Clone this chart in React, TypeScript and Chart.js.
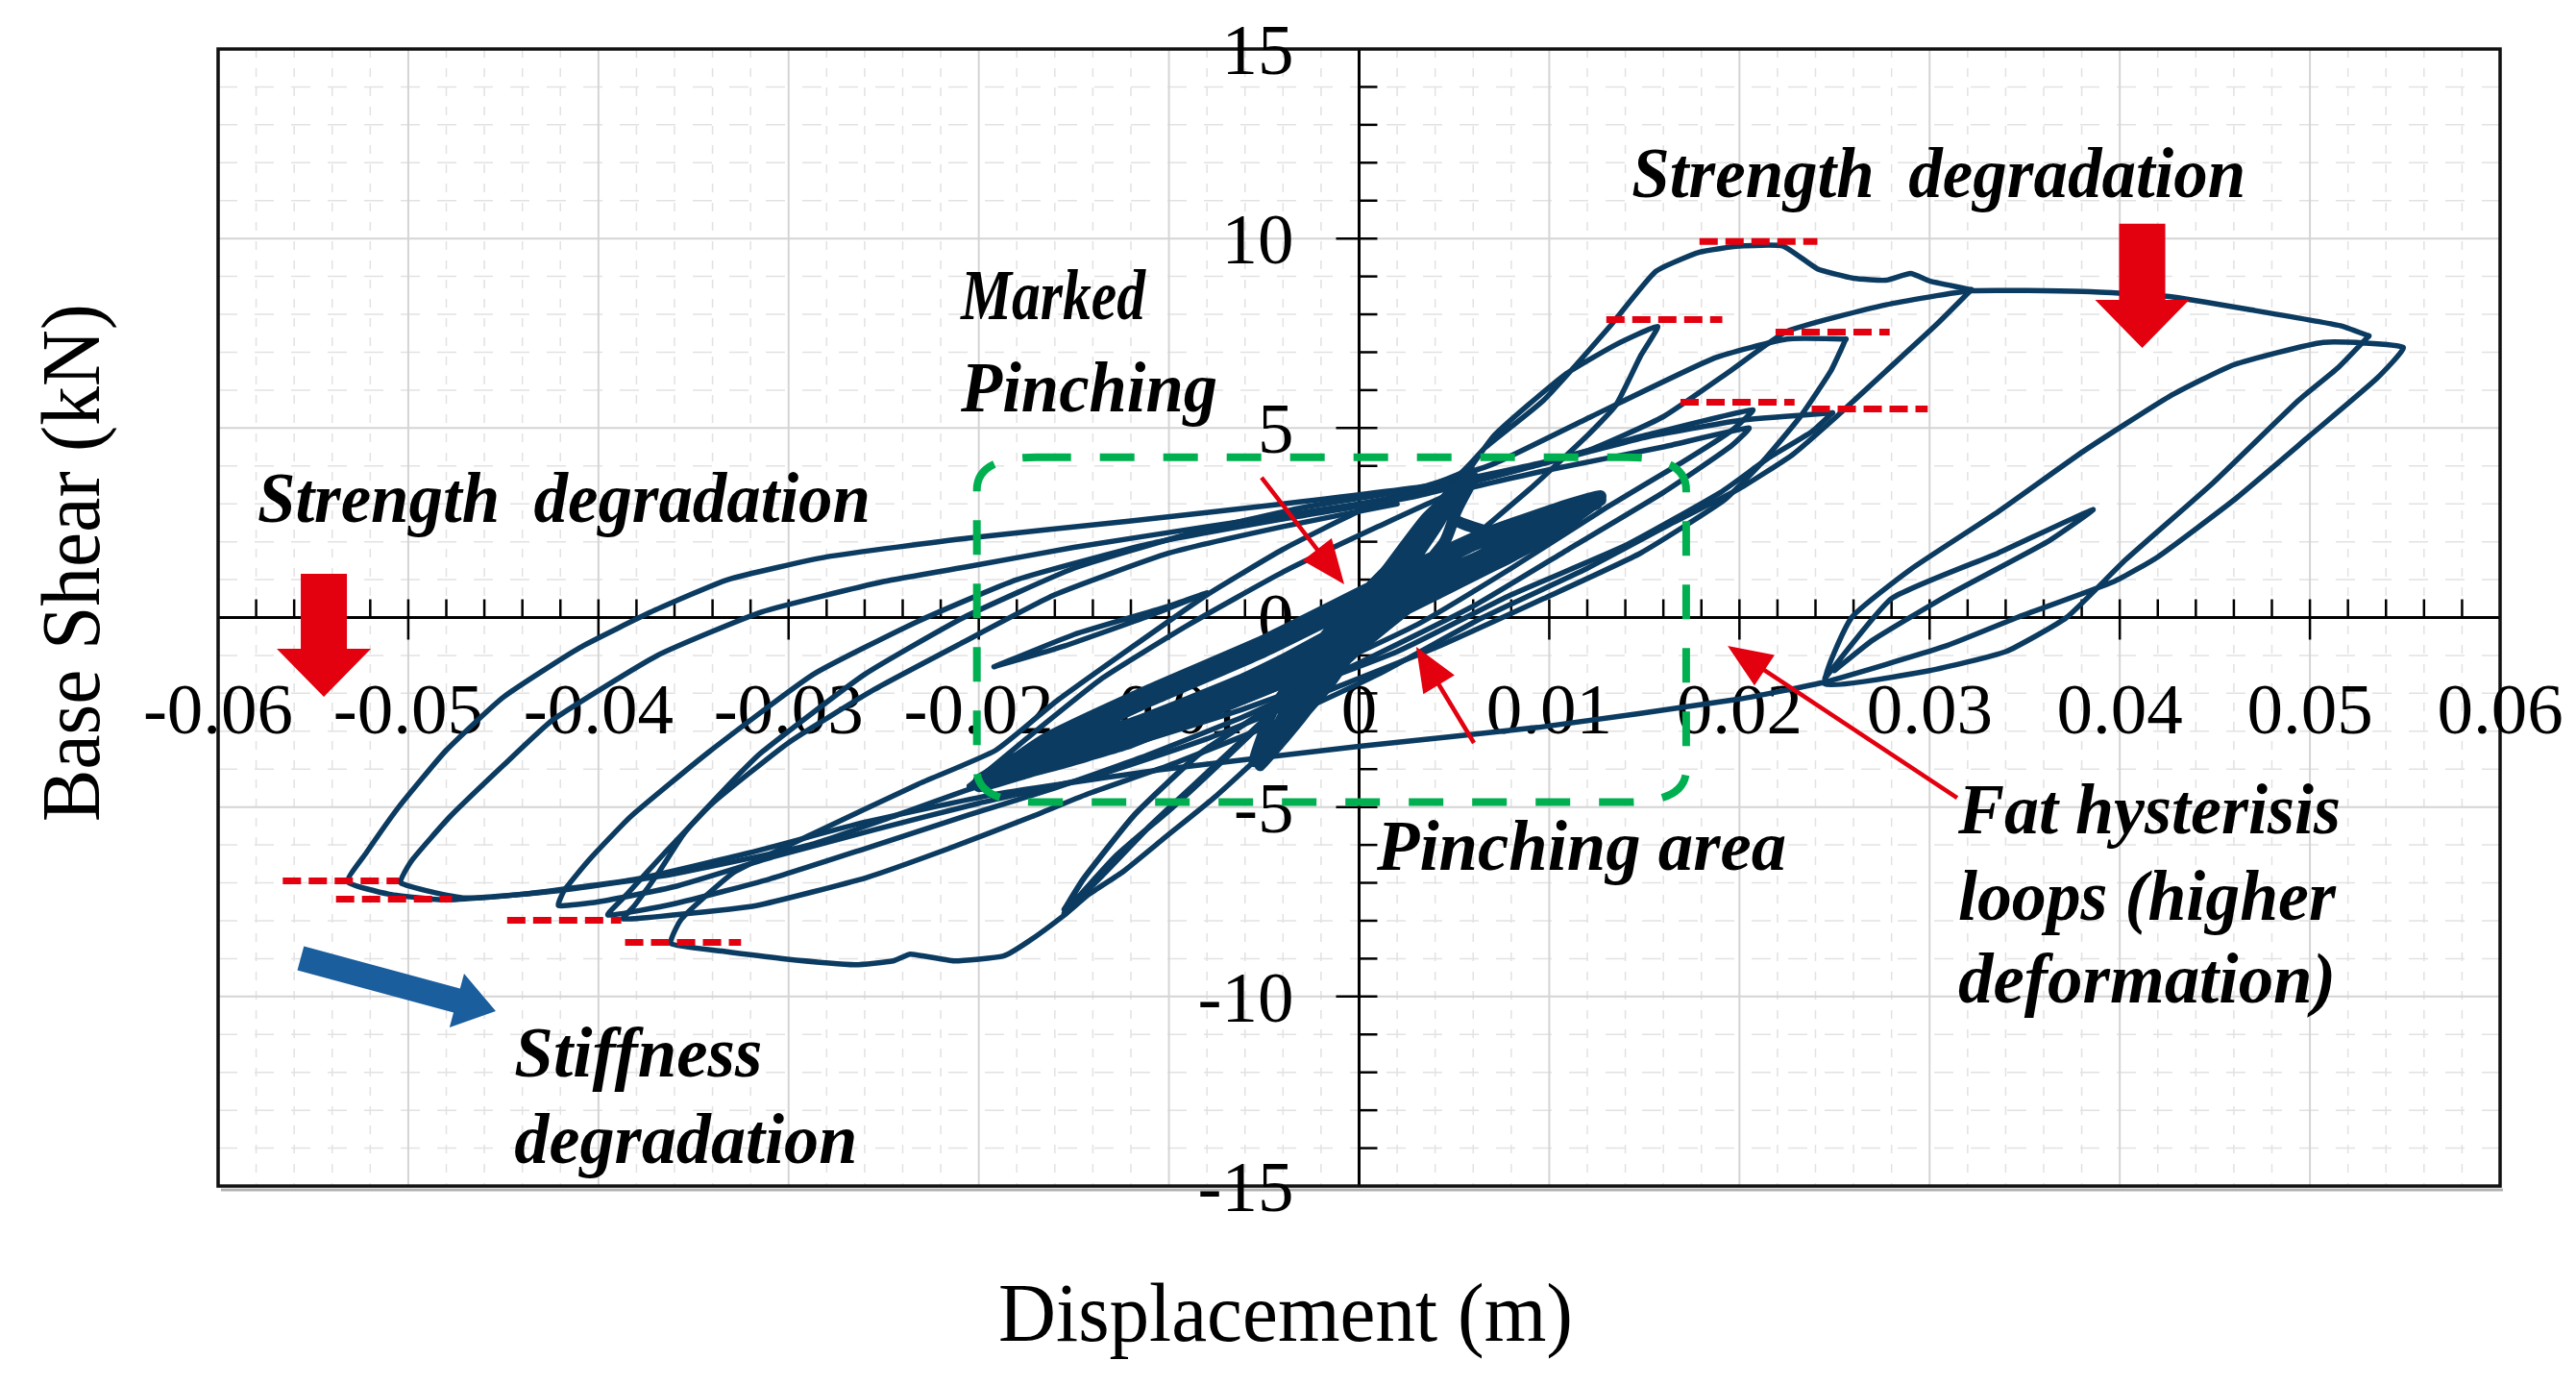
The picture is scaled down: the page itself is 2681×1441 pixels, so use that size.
import React, { useEffect, useRef } from "react";
import { Chart, registerables } from "chart.js";
Chart.register(...registerables);

type P = [number, number];

// ---------- axes ----------
const X_MIN = -0.06, X_MAX = 0.06, Y_MIN = -15, Y_MAX = 15;
const xTickValues = [-0.06, -0.05, -0.04, -0.03, -0.02, -0.01, 0, 0.01, 0.02, 0.03, 0.04, 0.05, 0.06];
const xTickLabels = ["-0.06", "-0.05", "-0.04", "-0.03", "-0.02", "-0.01", "0", "0.01", "0.02", "0.03", "0.04", "0.05", "0.06"];
const yTickValues = [-15, -10, -5, 0, 5, 10, 15];
const yTickLabels = ["-15", "-10", "-5", "0", "5", "10", "15"];
const xTitle = "Displacement (m)";
const yTitle = "Base Shear (kN)";

// ---------- hysteresis data (displacement m, base shear kN) ----------
const smallCycles: P[] = [
  [0.0, 0.0], [0.003, 1.5], [0.0015, 0.5], [-0.001, -0.9], [-0.003, -2.0], [-0.0015, -0.8], [0.001, 0.6],
  [0.0045, 2.9], [0.0058, 3.9], [0.0048, 3.0], [0.002, 0.9], [-0.0015, -1.7], [-0.0047, -3.5], [-0.004, -2.6],
  [-0.001, -0.4], [0.003, 2.2], [0.005, 3.4], [0.0042, 2.5], [0.0005, -0.2], [-0.003, -2.6], [-0.0052, -3.9],
  [-0.0042, -2.9], [-0.0005, -0.2], [0.004, 1.4], [0.008, 2.4], [0.0127, 3.2], [0.0105, 2.3], [0.006, 1.2],
  [0.002, 0.1], [-0.004, -1.5], [-0.01, -2.9], [-0.016, -3.8], [-0.02, -4.45], [-0.017, -3.5], [-0.011, -2.2],
  [-0.005, -0.9], [0.001, 0.6], [0.006, 1.9], [0.0115, 2.9], [0.0125, 3.05], [0.0095, 2.0], [0.004, 0.6],
  [-0.002, -0.9], [-0.008, -2.4], [-0.014, -3.6], [-0.0185, -4.2], [-0.015, -3.1], [-0.009, -1.7], [-0.003, -0.3],
  [0.003, 1.2], [0.008, 2.4], [0.012, 3.0], [0.009, 1.9], [0.004, 0.7], [-0.002, -0.7], [-0.008, -2.1],
  [-0.013, -3.2], [-0.0175, -3.9], [-0.014, -2.9], [-0.008, -1.5], [-0.002, 0.0], [0.004, 1.5], [0.0095, 2.6],
  [0.0127, 3.15], [0.01, 2.5], [0.005, 1.3], [0.0, -0.1], [-0.006, -1.6], [-0.012, -2.8], [-0.018, -3.7],
  [-0.02, -4.3], [-0.016, -3.5], [-0.01, -2.5], [-0.004, -1.2], [0.002, 0.4], [0.007, 1.8], [0.011, 2.7],
  [0.0127, 3.1], [0.0095, 2.3], [0.005, 1.0], [0.0, -0.5], [-0.006, -2.0], [-0.012, -3.3], [-0.0175, -4.1],
  [-0.02, -4.45], [-0.0165, -3.2], [-0.011, -1.9], [-0.005, -0.6], [0.001, 0.9], [0.006, 2.1], [0.0105, 2.9],
  [0.0127, 3.2], [0.008, 1.6], [0.003, 0.4], [0.0, -0.8], [-0.003, -2.2], [-0.0055, -3.8], [-0.0045, -2.4],
  [-0.001, 0.0], [0.003, 2.0], [0.0055, 3.6], [0.0045, 2.0], [0.001, 0.0], [-0.002, -1.5], [-0.0035, -2.8],
  [-0.0025, -1.4], [0.0005, 0.6], [0.0035, 2.6], [0.006, 3.7], [0.005, 2.6], [0.0085, 2.1], [0.0125, 3.1],
  [0.009, 2.2], [0.004, 1.1], [-0.001, -0.3], [-0.007, -1.9], [-0.013, -3.0], [-0.0185, -3.9], [-0.0195, -4.3],
  [-0.015, -3.6], [-0.009, -2.7], [-0.004, -1.7], [0.0, -0.6], [0.004, 0.9], [0.009, 2.3], [0.0125, 3.0],
];

const cycleA: P[] = [
  [0.0, 0.6], [0.0045, 3.0], [0.0071, 4.8], [0.0108, 6.4], [0.0135, 7.2], [0.0157, 7.68], [0.0148, 6.9],
  [0.0135, 5.6], [0.012, 4.8], [0.009, 3.4], [0.0055, 1.9], [0.002, 0.3], [-0.0015, -1.4], [-0.0045, -3.3],
  [-0.0075, -4.7], [-0.0102, -5.8], [-0.0124, -6.7], [-0.0142, -7.3], [-0.0155, -7.85], [-0.0174, -8.55],
  [-0.0187, -8.93], [-0.0213, -9.06], [-0.0236, -8.88], [-0.0245, -9.06], [-0.0265, -9.16], [-0.0303, -9.0],
  [-0.0335, -8.8], [-0.0362, -8.6], [-0.0357, -8.0], [-0.0347, -7.5], [-0.0328, -6.7], [-0.0287, -5.7],
  [-0.0232, -4.4], [-0.0191, -3.5], [-0.0159, -2.2], [-0.012, -0.8], [-0.008, 0.6], [-0.004, 1.8], [0.0, 2.8],
  [0.0053, 3.8], [0.0066, 4.47], [0.0097, 5.73], [0.0132, 7.69], [0.0156, 9.13], [0.0179, 9.64], [0.02, 9.8],
  [0.0223, 9.8], [0.0241, 9.2], [0.026, 8.95], [0.0277, 8.9], [0.029, 9.08], [0.03, 8.88], [0.0322, 8.65],
];

const cycleB: P[] = [
  [0.0322, 8.65], [0.0303, 7.7], [0.0277, 6.5], [0.0251, 5.3], [0.0228, 4.3], [0.02, 3.4], [0.0165, 2.5],
  [0.012, 1.3], [0.0065, 0.0], [0.001, -1.5], [-0.005, -2.9], [-0.01, -3.9], [-0.0143, -4.66], [-0.0172, -5.25],
  [-0.0216, -6.1], [-0.0259, -6.86], [-0.0317, -7.6], [-0.0361, -7.85], [-0.0387, -7.95], [-0.0381, -7.6],
  [-0.0368, -6.7], [-0.0355, -5.7], [-0.0335, -4.6], [-0.0314, -3.55], [-0.026, -1.5], [-0.0208, 0.0],
  [-0.015, 1.3], [-0.009, 2.2], [-0.003, 2.9], [0.003, 3.4], [0.0071, 4.06], [0.0122, 5.3], [0.0187, 6.85],
  [0.0225, 7.35], [0.0256, 7.35],
];

const cycleC: P[] = [
  [0.0256, 7.35], [0.0248, 6.5], [0.0232, 5.3], [0.0212, 4.1], [0.0192, 3.1], [0.0148, 1.7], [0.0097, 0.5],
  [0.004, -0.8], [-0.002, -2.0], [-0.008, -3.2], [-0.014, -4.2], [-0.02, -4.9], [-0.0255, -5.6], [-0.0307, -6.3],
  [-0.036, -7.1], [-0.04, -7.5], [-0.0421, -7.6], [-0.0418, -7.2], [-0.0405, -6.4], [-0.0383, -5.25],
  [-0.0342, -3.55], [-0.0287, -1.5], [-0.0232, -0.1], [-0.018, 1.0], [-0.011, 1.95], [-0.004, 2.6], [0.003, 3.2],
  [0.0097, 4.06], [0.015, 4.75], [0.02, 5.2], [0.0249, 5.4],
];

const cycleD: P[] = [
  [0.0249, 5.4], [0.0238, 4.9], [0.0215, 4.2], [0.019, 3.3], [0.014, 1.9], [0.008, 0.6], [0.002, -0.9],
  [-0.006, -2.4], [-0.013, -3.5], [-0.02, -4.45], [-0.0245, -5.25], [-0.0289, -6.0], [-0.0361, -6.77],
  [-0.042, -7.2], [-0.047, -7.4], [-0.0504, -7.0], [-0.0498, -6.4], [-0.0478, -5.25], [-0.045, -3.9],
  [-0.0424, -2.7], [-0.0369, -1.0], [-0.0314, 0.15], [-0.025, 0.95], [-0.0205, 1.35], [-0.015, 1.85],
  [-0.008, 2.4], [0.0, 3.0], [0.006, 3.6], [0.012, 4.4], [0.016, 5.3], [0.0195, 6.5], [0.0225, 7.55],
  [0.0277, 8.25], [0.0322, 8.62], [0.0381, 8.6], [0.0426, 8.47], [0.0471, 8.1], [0.0516, 7.7], [0.0531, 7.43],
];

const cycleE: P[] = [
  [0.0531, 7.43], [0.0515, 6.6], [0.0494, 5.73], [0.0449, 3.55], [0.0403, 1.52], [0.0372, 0.0], [0.034, -0.9],
  [0.03, -1.4], [0.0245, -1.75], [0.0259, 0.0], [0.029, 1.27], [0.0336, 2.79], [0.0381, 4.39], [0.0426, 5.83],
  [0.046, 6.67], [0.0507, 7.26], [0.0549, 7.13], [0.0535, 6.3], [0.05, 4.8], [0.046, 3.1], [0.042, 1.6],
  [0.0397, 0.95], [0.0346, 0.0], [0.0308, -0.76], [0.0245, -1.7], [0.02, -2.15], [0.0094, -2.9], [0.0, -3.4],
  [-0.0102, -4.0], [-0.0192, -4.67], [-0.026, -5.4], [-0.032, -6.2], [-0.038, -6.9], [-0.044, -7.3],
  [-0.048, -7.45], [-0.051, -7.3], [-0.0532, -6.97], [-0.0522, -6.2], [-0.0505, -5.0], [-0.048, -3.5],
  [-0.045, -2.1], [-0.041, -0.8], [-0.037, 0.2], [-0.0332, 1.0], [-0.028, 1.6], [-0.0205, 2.1], [-0.012, 2.55],
  [-0.004, 3.0], [0.004, 3.5], [0.0097, 4.1], [0.015, 4.8], [0.0207, 5.48], [0.0195, 4.9], [0.017, 4.1],
  [0.013, 2.9], [0.008, 1.3], [0.003, -0.2], [-0.003, -1.6], [-0.01, -3.0], [-0.016, -3.9], [-0.0205, -4.45],
];

// later partial cycles (inner branches)
const cycleF: P[] = [
  [-0.0205, -4.45], [-0.0175, -3.2], [-0.0135, -1.6], [-0.009, -0.2], [-0.004, 1.2], [0.001, 2.4], [0.005, 3.3],
  [0.01, 3.9], [0.016, 4.5], [0.0205, 5.0], [0.0195, 4.5], [0.016, 3.3], [0.011, 1.8], [0.006, 0.3],
  [0.0, -1.2], [-0.006, -2.6], [-0.0115, -3.7], [-0.016, -4.5], [-0.0205, -5.2], [-0.026, -6.1],
  [-0.031, -6.9], [-0.036, -7.55], [-0.0395, -7.85], [-0.0385, -7.3], [-0.0365, -6.2], [-0.034, -4.9],
  [-0.03, -3.3], [-0.0255, -1.9], [-0.021, -0.7], [-0.016, 0.6], [-0.01, 1.7], [-0.004, 2.4], [0.002, 3.0],
];

const fanLines: P[] = [
  [0.001, 0.4], [-0.002, -1.1], [-0.005, -2.7], [-0.008, -4.1], [-0.011, -5.5], [-0.0135, -6.8], [-0.0155, -7.8],
  [-0.0128, -6.3], [-0.0098, -5.0], [-0.0068, -3.6], [-0.0035, -2.0], [-0.001, -0.6], [-0.0045, -2.3],
  [-0.0084, -3.6], [-0.0118, -5.2], [-0.0145, -6.9], [-0.0155, -7.7],
];

const spikeLoop: P[] = [
  [0.0245, -1.6], [0.028, 0.5], [0.0336, 1.7], [0.0386, 2.85], [0.0362, 2.0], [0.031, 0.6], [0.027, -0.6], [0.025, -1.4],
];

const innerSliver: P[] = [
  [-0.0192, -1.3], [-0.015, -0.45], [-0.01, 0.3], [-0.008, 0.65], [-0.011, 0.05], [-0.0155, -0.75], [-0.0192, -1.3],
];

// strength levels (red dashed): [xStart, xEnd, y]
const strengthLevelsPos: [number, number, number][] = [
  [0.0179, 0.0241, 9.92], [0.013, 0.0191, 7.86], [0.0219, 0.0279, 7.53], [0.0169, 0.0229, 5.68], [0.0238, 0.0299, 5.5],
];
const strengthLevelsNeg: [number, number, number][] = [
  [-0.0566, -0.0505, -6.95], [-0.0538, -0.0477, -7.43], [-0.0448, -0.0388, -7.99], [-0.0386, -0.0325, -8.57],
];

// pinching area box: [xMin, xMax, yMin, yMax]
const pinchBox = [-0.0201, 0.0172, -4.87, 4.23];

// annotation texts: [text, x, yBaseline, widthPx]
const notes: [string, number, number, number][] = [
  ["Strength  degradation", 0.01434, 11.1, 639],
  ["Marked", -0.02094, 7.88, 192],
  ["Pinching", -0.02094, 5.45, 267],
  ["Strength  degradation", -0.05793, 2.53, 638],
  ["Pinching area", 0.000935, -6.66, 426],
  ["Fat hysterisis", 0.0315, -5.69, 398],
  ["loops (higher", 0.0315, -7.98, 393],
  ["deformation)", 0.0315, -10.16, 393],
  ["Stiffness", -0.04442, -12.11, 258],
  ["degradation", -0.04442, -14.39, 357],
];

// block arrows: [xTail, yTail, xTip, yTip]
const redBlockArrows: [number, number, number, number][] = [
  [0.04118, 10.39, 0.04118, 7.115],
  [-0.05444, 1.154, -0.05444, -2.09],
];
const blueBlockArrow: [number, number, number, number] = [-0.05566, -8.99, -0.0454, -10.385];
// thin callout arrows: [xFrom, yFrom, xTip, yTip]
const calloutArrows: [number, number, number, number][] = [
  [-0.00513, 3.69, -0.00078, 0.875],
  [0.00604, -3.31, 0.003, -0.773],
  [0.03145, -4.755, 0.01938, -0.748],
];

// ---------- styling ----------
const LINE = "#0b3b60";
const RED = "#e3000f";
const SERIF = '"Liberation Serif", "Times New Roman", serif';

const toPts = (a: P[]) => a.map(([x, y]) => ({ x, y }));

function fitText(ctx: CanvasRenderingContext2D, text: string, x: number, y: number, width: number, font: string, sy = 1) {
  ctx.font = font;
  const w = ctx.measureText(text).width;
  ctx.save();
  ctx.translate(x, y);
  ctx.scale(width / w, sy);
  ctx.textAlign = "left";
  ctx.textBaseline = "alphabetic";
  ctx.fillText(text, 0, 0);
  ctx.restore();
}

function blockArrow(ctx: CanvasRenderingContext2D, x1: number, y1: number, x2: number, y2: number, sh: number, hh: number, hl: number, color: string) {
  const dx = x2 - x1, dy = y2 - y1;
  const L = Math.hypot(dx, dy);
  const ux = dx / L, uy = dy / L;
  const nx = -uy, ny = ux;
  const bx = x2 - ux * hl, by = y2 - uy * hl;
  ctx.save();
  ctx.fillStyle = color;
  ctx.beginPath();
  ctx.moveTo(x1 + nx * sh, y1 + ny * sh);
  ctx.lineTo(bx + nx * sh, by + ny * sh);
  ctx.lineTo(bx + nx * hh, by + ny * hh);
  ctx.lineTo(x2, y2);
  ctx.lineTo(bx - nx * hh, by - ny * hh);
  ctx.lineTo(bx - nx * sh, by - ny * sh);
  ctx.lineTo(x1 - nx * sh, y1 - ny * sh);
  ctx.closePath();
  ctx.fill();
  ctx.restore();
}

function lineArrow(ctx: CanvasRenderingContext2D, x1: number, y1: number, x2: number, y2: number, color: string) {
  const dx = x2 - x1, dy = y2 - y1;
  const L = Math.hypot(dx, dy);
  const ux = dx / L, uy = dy / L;
  const nx = -uy, ny = ux;
  const hl = 46, hh = 19;
  const bx = x2 - ux * hl, by = y2 - uy * hl;
  ctx.save();
  ctx.strokeStyle = color;
  ctx.fillStyle = color;
  ctx.lineWidth = 4.5;
  ctx.beginPath();
  ctx.moveTo(x1, y1);
  ctx.lineTo(bx + ux * 4, by + uy * 4);
  ctx.stroke();
  ctx.beginPath();
  ctx.moveTo(x2, y2);
  ctx.lineTo(bx + nx * hh, by + ny * hh);
  ctx.lineTo(bx - nx * hh, by - ny * hh);
  ctx.closePath();
  ctx.fill();
  ctx.restore();
}

const framePlugin = {
  id: "frame",
  beforeDraw(chart: any) {
    const ctx: CanvasRenderingContext2D = chart.ctx;
    ctx.save();
    ctx.fillStyle = "#ffffff";
    ctx.fillRect(0, 0, chart.width, chart.height);
    ctx.restore();
  },
  beforeDatasetsDraw(chart: any) {
    const ctx: CanvasRenderingContext2D = chart.ctx;
    const { left, right, top, bottom } = chart.chartArea;
    const xs = chart.scales.x, ys = chart.scales.y;
    const X = (v: number) => xs.getPixelForValue(v);
    const Y = (v: number) => ys.getPixelForValue(v);
    ctx.save();
    // minor grid
    ctx.strokeStyle = "#e2e2e2";
    ctx.lineWidth = 1.5;
    ctx.setLineDash([9, 11]);
    for (let i = -29; i <= 29; i++) {
      if (i % 5 === 0) continue;
      const x = X(i * 0.002);
      ctx.beginPath(); ctx.moveTo(x, top); ctx.lineTo(x, bottom); ctx.stroke();
    }
    ctx.setLineDash([20, 18]);
    for (let j = -14; j <= 14; j++) {
      if (j % 5 === 0) continue;
      const y = Y(j);
      ctx.beginPath(); ctx.moveTo(left, y); ctx.lineTo(right, y); ctx.stroke();
    }
    ctx.setLineDash([]);
    // major grid
    ctx.strokeStyle = "#d4d4d4";
    ctx.lineWidth = 2;
    for (const v of xTickValues) {
      const x = X(v);
      ctx.beginPath(); ctx.moveTo(x, top); ctx.lineTo(x, bottom); ctx.stroke();
    }
    for (const v of yTickValues) {
      const y = Y(v);
      ctx.beginPath(); ctx.moveTo(left, y); ctx.lineTo(right, y); ctx.stroke();
    }
    // axes through zero
    const x0 = X(0), y0 = Y(0);
    ctx.strokeStyle = "#000";
    ctx.lineWidth = 3;
    ctx.beginPath(); ctx.moveTo(left, y0); ctx.lineTo(right, y0); ctx.stroke();
    ctx.beginPath(); ctx.moveTo(x0, top); ctx.lineTo(x0, bottom); ctx.stroke();
    ctx.lineWidth = 2.5;
    for (let i = -29; i <= 29; i++) {
      const x = X(i * 0.002);
      ctx.beginPath();
      if (i % 5 === 0) { ctx.moveTo(x, y0 - 19); ctx.lineTo(x, y0 + 23); }
      else { ctx.moveTo(x, y0 - 19); ctx.lineTo(x, y0); }
      ctx.stroke();
    }
    for (let j = -14; j <= 14; j++) {
      const y = Y(j);
      ctx.beginPath();
      if (j % 5 === 0) { ctx.moveTo(x0 - 24, y); ctx.lineTo(x0 + 19, y); }
      else { ctx.moveTo(x0, y); ctx.lineTo(x0 + 19, y); }
      ctx.stroke();
    }
    // frame with slight shadow
    ctx.strokeStyle = "rgba(0,0,0,0.3)";
    ctx.lineWidth = 3;
    ctx.beginPath(); ctx.moveTo(left + 3, bottom + 4); ctx.lineTo(right + 3, bottom + 4); ctx.stroke();
    ctx.strokeStyle = "#111";
    ctx.lineWidth = 3.5;
    ctx.strokeRect(left, top, right - left, bottom - top);
    // tick labels
    ctx.fillStyle = "#000";
    ctx.font = `75px ${SERIF}`;
    ctx.textBaseline = "alphabetic";
    ctx.textAlign = "center";
    xTickValues.forEach((v, i) => ctx.fillText(xTickLabels[i], X(v), y0 + 120));
    ctx.textAlign = "right";
    yTickValues.forEach((v, i) => ctx.fillText(yTickLabels[i], x0 - 68, Y(v) + 26));
    // titles
    fitText(ctx, xTitle, 1039, 1395, 598, `82px ${SERIF}`, 1.05);
    ctx.save();
    ctx.translate(103, 855);
    ctx.rotate(-Math.PI / 2);
    fitText(ctx, yTitle, 0, 0, 539, `82px ${SERIF}`, 1.05);
    ctx.restore();
    ctx.restore();
  },
  afterDatasetsDraw(chart: any) {
    const ctx: CanvasRenderingContext2D = chart.ctx;
    const xs = chart.scales.x, ys = chart.scales.y;
    const X = (v: number) => xs.getPixelForValue(v);
    const Y = (v: number) => ys.getPixelForValue(v);
    ctx.save();
    // pinching box
    const l = X(pinchBox[0]), r = X(pinchBox[1]), b = Y(pinchBox[2]), t = Y(pinchBox[3]);
    const rx = 62, ry = 34;
    ctx.strokeStyle = "#00b050";
    ctx.lineWidth = 8;
    ctx.setLineDash([36, 30]);
    ctx.beginPath();
    ctx.moveTo(l + rx, t);
    ctx.lineTo(r - rx, t);
    ctx.quadraticCurveTo(r, t, r, t + ry);
    ctx.lineTo(r, b - ry);
    ctx.quadraticCurveTo(r, b, r - rx, b);
    ctx.lineTo(l + rx, b);
    ctx.quadraticCurveTo(l, b, l, b - ry);
    ctx.lineTo(l, t + ry);
    ctx.quadraticCurveTo(l, t, l + rx, t);
    ctx.stroke();
    ctx.setLineDash([]);
    // block arrows
    redBlockArrows.forEach(([a, b1, c, d]) => blockArrow(ctx, X(a), Y(b1), X(c), Y(d), 24, 49, 50, RED));
    blockArrow(ctx, X(blueBlockArrow[0]), Y(blueBlockArrow[1]), X(blueBlockArrow[2]), Y(blueBlockArrow[3]), 13, 29, 42, "#1a5e9e");
    calloutArrows.forEach(([a, b1, c, d]) => lineArrow(ctx, X(a), Y(b1), X(c), Y(d), RED));
    // texts
    ctx.fillStyle = "#000";
    notes.forEach(([txt, x, y, w]) => fitText(ctx, txt, X(x), Y(y), w, `italic bold 66px ${SERIF}`, 1.13));
    ctx.restore();
  },
};

function lineDs(label: string, arr: P[], width: number) {
  return {
    label,
    data: toPts(arr),
    showLine: true,
    borderColor: LINE,
    backgroundColor: LINE,
    borderWidth: width,
    pointRadius: 0,
    tension: 0.15,
    fill: false,
    borderJoinStyle: "round" as const,
    borderCapStyle: "round" as const,
    order: 2,
  };
}

function levelDs(label: string, lv: [number, number, number]) {
  return {
    label,
    data: [{ x: lv[0], y: lv[2] }, { x: lv[1], y: lv[2] }],
    showLine: true,
    borderColor: RED,
    borderWidth: 7,
    borderDash: [19, 8],
    pointRadius: 0,
    fill: false,
    order: 0,
  };
}

export default function App() {
  const ref = useRef<HTMLCanvasElement>(null);
  useEffect(() => {
    const datasets: any[] = [
      ...strengthLevelsPos.map((lv, i) => levelDs(`pos${i}`, lv)),
      ...strengthLevelsNeg.map((lv, i) => levelDs(`neg${i}`, lv)),
      lineDs("small cycles", smallCycles, 12),
      lineDs("fan", fanLines, 6),
      lineDs("cycle A", cycleA, 5.5),
      lineDs("cycle B", cycleB, 5.5),
      lineDs("cycle C", cycleC, 5.5),
      lineDs("cycle D", cycleD, 5.5),
      lineDs("cycle E", cycleE, 5.5),
      lineDs("cycle F", cycleF, 5.5),
      lineDs("spike", spikeLoop, 5.5),
      lineDs("sliver", innerSliver, 5.5),
    ];
    const chart = new Chart(ref.current as HTMLCanvasElement, {
      type: "scatter",
      data: { datasets },
      options: {
        animation: false,
        responsive: false,
        maintainAspectRatio: false,
        devicePixelRatio: 1,
        layout: { padding: { left: 227, top: 51, right: 79, bottom: 207 } },
        scales: {
          x: { type: "linear", min: X_MIN, max: X_MAX, display: false },
          y: { type: "linear", min: Y_MIN, max: Y_MAX, display: false },
        },
        plugins: { legend: { display: false }, tooltip: { enabled: false } },
        elements: { point: { radius: 0 } },
      },
      plugins: [framePlugin],
    } as any);
    return () => chart.destroy();
  }, []);
  return (
    <div style={{ position: "fixed", left: 0, top: 0, width: 2681, height: 1441, background: "#fff" }}>
      <canvas ref={ref} width={2681} height={1441} style={{ display: "block", width: 2681, height: 1441 }} />
    </div>
  );
}
